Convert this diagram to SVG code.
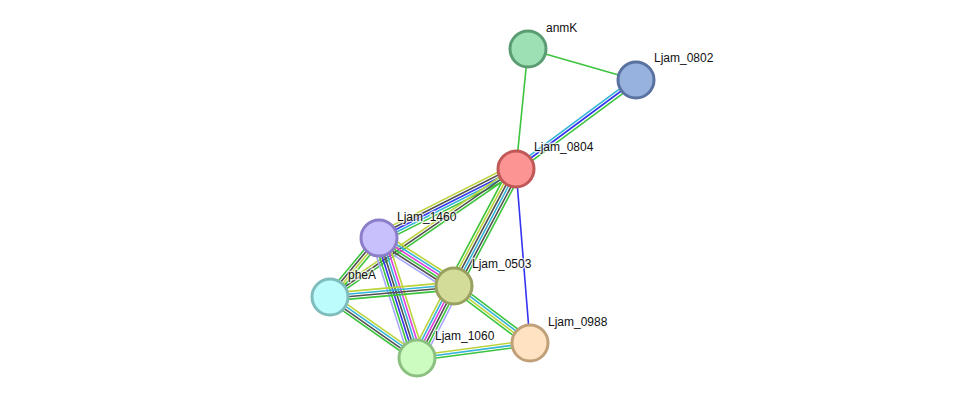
<svg xmlns="http://www.w3.org/2000/svg" width="975" height="403" viewBox="0 0 975 403">
<style>
.e line{stroke-width:1.6;fill:none}
.g{stroke:#3cc43c}.b{stroke:#3535f0}.k{stroke:#505050}.c{stroke:#35b4d8}.y{stroke:#bcd43c}.m{stroke:#e040e0}.l{stroke:#a8a8ff}
.n circle{stroke-width:3}
.n text{font-family:"Liberation Sans",Arial,sans-serif;font-size:12px;fill:#111;stroke:#fff;stroke-width:2.5;stroke-opacity:0.7;paint-order:stroke}
</style>
<rect width="975" height="403" fill="#fff"/>
<g id="connectors" class="e">
<g transform="translate(528,49) rotate(16.02)"><line class="g" x1="0" y1="0" x2="112.4" y2="0"/></g>
<g transform="translate(528,49) rotate(95.71)"><line class="g" x1="0" y1="0" x2="120.6" y2="0"/></g>
<g transform="translate(636,80) rotate(143.44)"><line class="c" x1="0" y1="2.6" x2="149.4" y2="2.6"/><line class="b" x1="0" y1="0" x2="149.4" y2="0"/><line class="g" x1="0" y1="-3" x2="149.4" y2="-3"/></g>
<g transform="translate(516,169) rotate(85.40)"><line class="b" x1="0" y1="0" x2="174.6" y2="0"/></g>
<g transform="translate(516,169) rotate(153.27)"><line class="y" x1="0" y1="5.2" x2="153.4" y2="5.2"/><line class="k" x1="0" y1="2.6" x2="153.4" y2="2.6"/><line class="b" x1="0" y1="0" x2="153.4" y2="0"/><line class="c" x1="0" y1="-2.6" x2="153.4" y2="-2.6"/><line class="g" x1="0" y1="-5.2" x2="153.4" y2="-5.2"/></g>
<g transform="translate(516,169) rotate(145.47)"><line class="y" x1="0" y1="2.6" x2="225.8" y2="2.6"/><line class="k" x1="0" y1="0" x2="225.8" y2="0"/><line class="g" x1="0" y1="-2.6" x2="225.8" y2="-2.6"/></g>
<g transform="translate(516,169) rotate(117.92)"><line class="g" x1="0" y1="6.5" x2="132.4" y2="6.5"/><line class="y" x1="0" y1="3.9" x2="132.4" y2="3.9"/><line class="k" x1="0" y1="1.3" x2="132.4" y2="1.3"/><line class="c" x1="0" y1="-1.3" x2="132.4" y2="-1.3"/><line class="k" x1="0" y1="-3.9" x2="132.4" y2="-3.9"/><line class="g" x1="0" y1="-6.5" x2="132.4" y2="-6.5"/></g>
<g transform="translate(379,238) rotate(129.71)"><line class="g" x1="0" y1="3.9" x2="76.7" y2="3.9"/><line class="k" x1="0" y1="1.3" x2="76.7" y2="1.3"/><line class="y" x1="0" y1="-1.3" x2="76.7" y2="-1.3"/><line class="g" x1="0" y1="-3.9" x2="76.7" y2="-3.9"/></g>
<g transform="translate(379,238) rotate(32.62)"><line class="y" x1="0" y1="-6.5" x2="89" y2="-6.5"/><line class="c" x1="0" y1="-3.9" x2="89" y2="-3.9"/><line class="m" x1="0" y1="-1.3" x2="89" y2="-1.3"/><line class="g" x1="0" y1="1.3" x2="89" y2="1.3"/><line class="k" x1="0" y1="3.9" x2="89" y2="3.9"/><line class="l" x1="0" y1="6.5" x2="89" y2="6.5"/></g>
<g transform="translate(379,238) rotate(72.43)"><line class="l" x1="0" y1="7.8" x2="125.9" y2="7.8"/><line class="g" x1="0" y1="5.2" x2="125.9" y2="5.2"/><line class="b" x1="0" y1="2.6" x2="125.9" y2="2.6"/><line class="k" x1="0" y1="0" x2="125.9" y2="0"/><line class="c" x1="0" y1="-2.6" x2="125.9" y2="-2.6"/><line class="m" x1="0" y1="-5.2" x2="125.9" y2="-5.2"/><line class="y" x1="0" y1="-7.8" x2="125.9" y2="-7.8"/></g>
<g transform="translate(330,297) rotate(-5.07)"><line class="y" x1="0" y1="-3.9" x2="124.5" y2="-3.9"/><line class="c" x1="0" y1="-1.3" x2="124.5" y2="-1.3"/><line class="k" x1="0" y1="1.3" x2="124.5" y2="1.3"/><line class="g" x1="0" y1="3.9" x2="124.5" y2="3.9"/></g>
<g transform="translate(330,297) rotate(35.04)"><line class="y" x1="0" y1="-3.9" x2="106.3" y2="-3.9"/><line class="c" x1="0" y1="-1.3" x2="106.3" y2="-1.3"/><line class="k" x1="0" y1="1.3" x2="106.3" y2="1.3"/><line class="g" x1="0" y1="3.9" x2="106.3" y2="3.9"/></g>
<g transform="translate(454,286) rotate(117.20)"><line class="y" x1="0" y1="6.5" x2="81" y2="6.5"/><line class="c" x1="0" y1="3.9" x2="81" y2="3.9"/><line class="m" x1="0" y1="1.3" x2="81" y2="1.3"/><line class="k" x1="0" y1="-1.3" x2="81" y2="-1.3"/><line class="g" x1="0" y1="-3.9" x2="81" y2="-3.9"/><line class="l" x1="0" y1="-6.5" x2="81" y2="-6.5"/></g>
<g transform="translate(454,286) rotate(36.87)"><line class="g" x1="0" y1="-3.9" x2="95" y2="-3.9"/><line class="c" x1="0" y1="-1.3" x2="95" y2="-1.3"/><line class="y" x1="0" y1="1.3" x2="95" y2="1.3"/><line class="g" x1="0" y1="3.9" x2="95" y2="3.9"/></g>
<g transform="translate(417,358) rotate(-7.56)"><line class="y" x1="0" y1="-2.6" x2="114" y2="-2.6"/><line class="c" x1="0" y1="0" x2="114" y2="0"/><line class="g" x1="0" y1="2.6" x2="114" y2="2.6"/></g>
</g>
<g id="anmK" class="n"><circle cx="528" cy="49" r="18" fill="#9de0b4" stroke="#5b9c72"/><text x="546" y="32">anmK</text></g>
<g id="Ljam_0802" class="n"><circle cx="636" cy="80" r="18" fill="#98b2e0" stroke="#5a72a0"/><text x="654" y="62">Ljam_0802</text></g>
<g id="Ljam_0804" class="n"><circle cx="516" cy="169" r="18" fill="#fd9494" stroke="#c05858"/><text x="534" y="151">Ljam_0804</text></g>
<g id="Ljam_1460" class="n"><circle cx="379" cy="238" r="18" fill="#c8c0fc" stroke="#8c7ec8"/><text x="397" y="221">Ljam_1460</text></g>
<g id="pheA" class="n"><circle cx="330" cy="297" r="18" fill="#bdfcfc" stroke="#7fbcbc"/><text x="348" y="279">pheA</text></g>
<g id="Ljam_0503" class="n"><circle cx="454" cy="286" r="18" fill="#d4dc9a" stroke="#9aa060"/><text x="472" y="268">Ljam_0503</text></g>
<g id="Ljam_1060" class="n"><circle cx="417" cy="358" r="18" fill="#ccfcc0" stroke="#8cc080"/><text x="435" y="340">Ljam_1060</text></g>
<g id="Ljam_0988" class="n"><circle cx="530" cy="343" r="18" fill="#ffe2c2" stroke="#c0a078"/><text x="548" y="326">Ljam_0988</text></g>
</svg>
